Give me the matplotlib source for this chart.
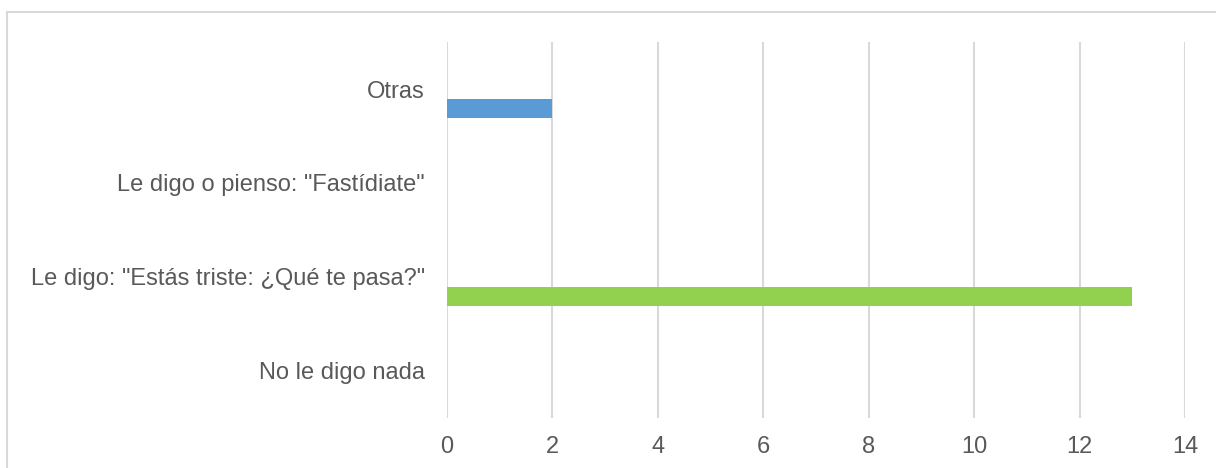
import matplotlib.pyplot as plt
from matplotlib.patches import Rectangle

# Data (bottom to top as drawn)
categories = ["No le digo nada", "Le digo: \"Estás triste: ¿Qué te pasa?\"",
              "Le digo o pienso: \"Fastídiate\"", "Otras"]
values = [0, 13, 0, 2]
colors = ["#A5A5A5", "#92D050", "#ED7D31", "#5B9BD5"]
xticks = [0, 2, 4, 6, 8, 10, 12, 14]

plt.rcParams['font.family'] = ['Liberation Sans', 'DejaVu Sans']

W, H = 1216, 468
fig = plt.figure(figsize=(W / 100, H / 100), dpi=100)
ax = fig.add_axes([447 / W, 1 - 418 / H, (1185 - 447) / W, (418 - 42) / H])

# clustered-bar offset: bar sits just below the category centre
pos = [i - 0.207 for i in range(len(categories))]
ax.barh(pos, values, height=0.202, color=colors, zorder=3)

ax.set_xlim(0, 14)
ax.set_ylim(-0.5, len(categories) - 0.5)
ax.set_xticks(xticks)
ax.set_yticks(range(len(categories)))
ax.set_yticklabels(categories)
ax.tick_params(axis='both', length=0, labelsize=17, colors="#595959")
ax.tick_params(axis='y', pad=16)
ax.tick_params(axis='x', pad=13)
ax.grid(axis='x', color="#D9D9D9", linewidth=1.5, zorder=0)
for s in ax.spines.values():
    s.set_visible(False)

# chart area border (cropped on right and bottom)
fig.patches.append(Rectangle((7 / W, -0.1), 1.2, 1.1 - 12.5 / H, transform=fig.transFigure,
                             fill=False, edgecolor="#D9D9D9", linewidth=1.5))

fig.savefig("out.png", dpi=100)
